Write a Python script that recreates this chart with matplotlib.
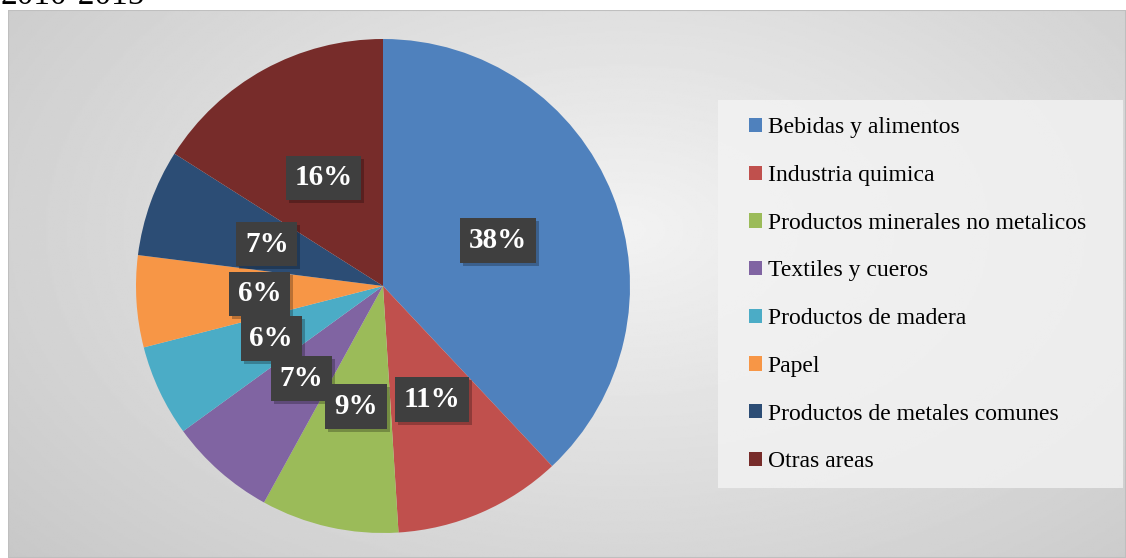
import numpy as np
import matplotlib.pyplot as plt
from matplotlib.patches import Rectangle
from matplotlib.transforms import IdentityTransform

# data
categories = ["Bebidas y alimentos", "Industria quimica", "Productos minerales no metalicos",
              "Textiles y cueros", "Productos de madera", "Papel",
              "Productos de metales comunes", "Otras areas"]
shares = [38, 11, 9, 7, 6, 6, 7, 16]
colors = ["#4F81BD", "#C0504D", "#9BBB59", "#8064A2", "#4BACC6", "#F79646", "#2C4D75", "#772C2A"]
title_text = "2010-2015"

W, H = 1126, 558
fig = plt.figure(figsize=(W / 100, H / 100), dpi=100)
fig.patch.set_facecolor("white")

# grey radial background inside the chart frame
bg = fig.add_axes([8 / W, 0, 1 - 8 / W, (H - 10) / H])
yy, xx = np.mgrid[0:300, 0:600]
d = np.sqrt(((xx - 330) / 420) ** 2 + ((yy - 120) / 260) ** 2)
shade = np.clip(0.95 - 0.16 * d, 0.78, 0.95)
bg.imshow(shade, cmap="gray", vmin=0, vmax=1, aspect="auto", extent=[0, 1, 0, 1])
bg.set_xlim(0, 1)
bg.set_ylim(0, 1)
bg.axis("off")
bg.add_patch(Rectangle((0, 0), 1, 1, transform=bg.transAxes, fill=False,
                       edgecolor="#bfbfbf", linewidth=1.5))

fig.text(0, 1 - 4 / H, title_text, fontsize=24, family="Liberation Serif",
         ha="left", va="baseline")

# pie
cx, cy, r = 383, 286, 247
ax = fig.add_axes([(cx - r) / W, (H - cy - r) / H, 2 * r / W, 2 * r / H])
wedges, texts, autotexts = ax.pie(shares, colors=colors, startangle=90, counterclock=False,
                                  autopct=lambda p: f"{p:.0f}%", pctdistance=0.5,
                                  wedgeprops=dict(linewidth=0))
ax.set_xlim(-1, 1)
ax.set_ylim(-1, 1)
for t in autotexts:
    t.set_fontsize(21)
    t.set_fontweight("bold")
    t.set_family("Liberation Serif")
    t.set_color("white")
    t.set_zorder(5)
    t.set_bbox(dict(boxstyle="square,pad=0.3", facecolor="#3F3F3F", edgecolor="none"))

# legend
fig.patches.append(Rectangle((718 / W, (H - 488) / H), (1123 - 718) / W, (488 - 100) / H,
                             transform=fig.transFigure, facecolor="#f3f3f3",
                             edgecolor="none", alpha=0.8, zorder=0.5))
leg = fig.legend(wedges, categories, loc="upper left",
                 bbox_to_anchor=(740 / W, 1 - 108 / H), frameon=False,
                 prop={"family": "Liberation Serif", "size": 17},
                 handlelength=0.55, handleheight=0.55, handletextpad=0.22,
                 labelspacing=1.13, borderaxespad=0)

# soft shadows under the label boxes
fig.canvas.draw()
for t in autotexts:
    bb = t.get_bbox_patch().get_window_extent()
    ax.add_artist(Rectangle((bb.x0 + 3, bb.y0 - 3), bb.width, bb.height,
                            transform=IdentityTransform(), facecolor="black", alpha=0.25,
                            edgecolor="none", zorder=4))

fig.savefig("out.png", dpi=100)
